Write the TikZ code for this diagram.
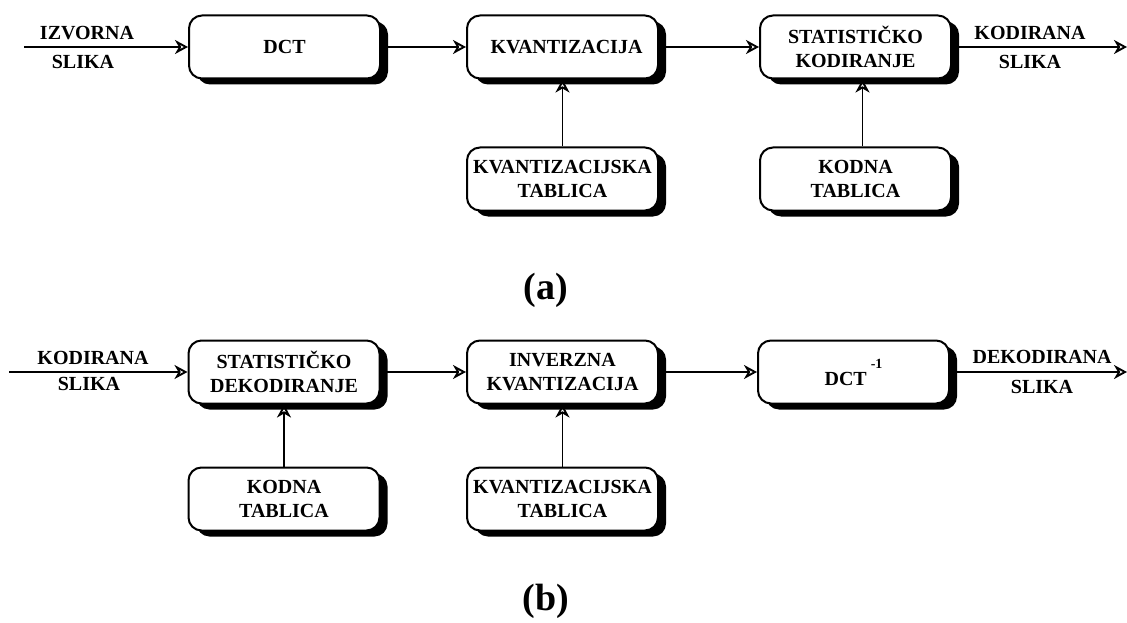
\documentclass[tikz,border=0pt]{standalone}
\usepackage{fontspec}
\setmainfont{Liberation Serif}
\usetikzlibrary{arrows.meta,shadows,positioning}

\tikzset{
  block/.style={draw, line width=2pt, fill=white, rounded corners=13pt,
    minimum width=191pt, minimum height=63pt, inner sep=2pt, align=center,
    font=\fontsize{20}{24}\selectfont\bfseries,
    drop shadow={shadow xshift=8pt, shadow yshift=-6pt, fill=black, opacity=1}},
  lbl/.style={font=\fontsize{20}{24}\selectfont\bfseries, inner sep=0pt},
  caption/.style={font=\fontsize{38}{40}\selectfont\bfseries, inner sep=0pt},
  flow/.style={line width=1.9pt, -{Stealth[open, length=13pt, width=14pt, inset=4pt]}}
}

\begin{document}
\begin{tikzpicture}[x=1pt, y=-1pt]
  \useasboundingbox (0,0) rectangle (1127,623);

  % ---------- (a) encoder ----------
  \coordinate (ina) at (24,47);
  \coordinate (outa) at (1127,47);
  \node[block] (dct) at (284.5,47) {DCT};
  \node[block] (kv) at (562.5,47) {\kern8pt KVANTIZACIJA};
  \node[block] (sk) at (855.5,47) {STATISTIČKO\\KODIRANJE};
  \node[block] (kta) at (562.5,179) {KVANTIZACIJSKA\\TABLICA};
  \node[block] (kda) at (855.5,179) {KODNA\\TABLICA};

  \draw[flow] (ina) -- (dct.west);
  \draw[flow] (dct.east) -- (kv.west);
  \draw[flow] (kv.east) -- (sk.west);
  \draw[flow] (sk.east) -- (outa);
  \draw[flow] (kta.north) -- (kv.south);
  \draw[flow] ([xshift=7pt]kda.north) -- ([xshift=7pt]sk.south);

  \node[lbl] (ia1) at (87,33) {IZVORNA};
  \node[lbl] (ia2) at (83,62) {SLIKA};
  \node[lbl] (oa1) at (1030,33) {KODIRANA};
  \node[lbl] (oa2) at (1030,62) {SLIKA};

  \node[caption] (capa) at (546,290) {(a)};

  % ---------- (b) decoder ----------
  \coordinate (inb) at (9,372);
  \coordinate (outb) at (1127,372);
  \node[block] (sd) at (284,372) {STATISTIČKO\\DEKODIRANJE};
  \node[block] (ik) at (562.5,372) {INVERZNA\\KVANTIZACIJA};
  \node[block] (idct) at (853.5,372)
    {DCT\kern4pt\raisebox{17pt}{\fontsize{14}{14}\selectfont -1}};
  \node[block] (kdb) at (284,499) {KODNA\\TABLICA};
  \node[block] (ktb) at (562.5,499) {KVANTIZACIJSKA\\TABLICA};

  \draw[flow] (inb) -- (sd.west);
  \draw[flow] (sd.east) -- (ik.west);
  \draw[flow] (ik.east) -- (idct.west);
  \draw[flow] (idct.east) -- (outb);
  \draw[flow] (kdb.north) -- (sd.south);
  \draw[flow] (ktb.north) -- (ik.south);

  \node[lbl] (ib1) at (93,358) {KODIRANA};
  \node[lbl] (ib2) at (89,384) {SLIKA};
  \node[lbl] (ob1) at (1042,357) {DEKODIRANA};
  \node[lbl] (ob2) at (1042,387) {SLIKA};

  \node[caption] (capb) at (546,601) {(b)};
\end{tikzpicture}
\end{document}
